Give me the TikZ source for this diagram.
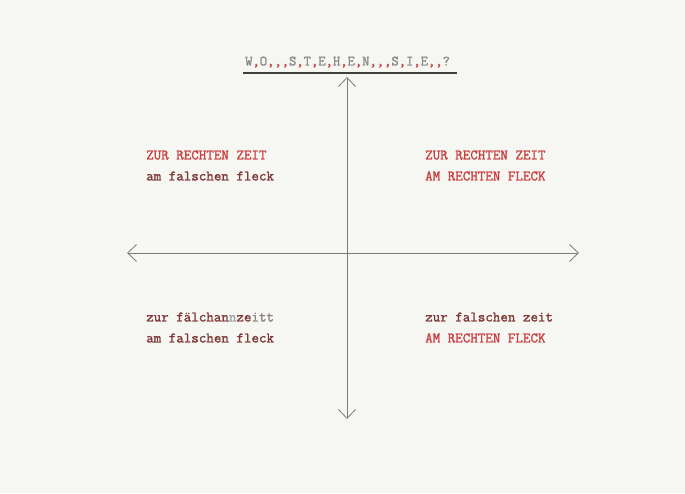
\documentclass[tikz,border=0pt]{standalone}
\usepackage{fontspec}
\newfontfamily\typew{Latin Modern Mono}[FakeBold=1.6]
\usetikzlibrary{arrows.meta}
\definecolor{paper}{HTML}{F6F6F3}
\definecolor{redink}{HTML}{C94040}
\definecolor{darkink}{HTML}{7E3A38}
\definecolor{grayink}{HTML}{8A8A8A}
\definecolor{axisgray}{HTML}{7A7A7A}
\tikzset{
  typed/.style={font=\typew\fontsize{14.6}{17}\selectfont, anchor=west, inner sep=0pt},
  axis/.style={draw=axisgray, line width=0.8pt, -{Straight Barb[length=9pt,width=17pt,line width=0.8pt]}},
}
\newcommand{\rc}[1]{\textcolor{redink}{#1}}
\begin{document}
\begin{tikzpicture}[x=1pt,y=-1pt]
\fill[paper] (0,0) rectangle (685,493);
\useasboundingbox (0,0) rectangle (685,493);
% title
\node[typed, text=grayink, font=\typew\fontsize{14.2}{17}\selectfont] (title) at (245,62) {W\rc{,}O\rc{,,,}S\rc{,}T\rc{,}E\rc{,}H\rc{,}E\rc{,}N\rc{,,,}S\rc{,}I\rc{,}E\rc{,,}?};
\coordinate (ulL) at (243,73);
\coordinate (ulR) at (457,73);
\draw[line width=1.6pt, draw=black!75] (ulL) -- (ulR);
% axes
\coordinate (o) at (347,253);
\coordinate (top) at (347,77);
\coordinate (bot) at (347,419);
\coordinate (lft) at (127,253);
\coordinate (rgt) at (579,253);
\draw[axis] (o) -- (top);
\draw[axis] (o) -- (bot);
\draw[axis] (o) -- (lft);
\draw[axis] (o) -- (rgt);
% quadrants
\node[typed, text=redink] (tl1) at (146,155) {ZUR RECHTEN ZEIT};
\node[typed, text=darkink] (tl2) at (146,176) {am falschen fleck};
\node[typed, text=redink] (tr1) at (425,155) {ZUR RECHTEN ZEIT};
\node[typed, text=redink] (tr2) at (425,176) {AM RECHTEN FLECK};
\node[typed, text=darkink] (bl1) at (146,317) {zur fälchan\textcolor{grayink!80}{n}ze\textcolor{grayink!90!redink}{itt}};
\node[typed, text=darkink] (bl2) at (146,338) {am falschen fleck};
\node[typed, text=darkink] (br1) at (425,317) {zur falschen zeit};
\node[typed, text=redink] (br2) at (425,338) {AM RECHTEN FLECK};
\end{tikzpicture}
\end{document}
